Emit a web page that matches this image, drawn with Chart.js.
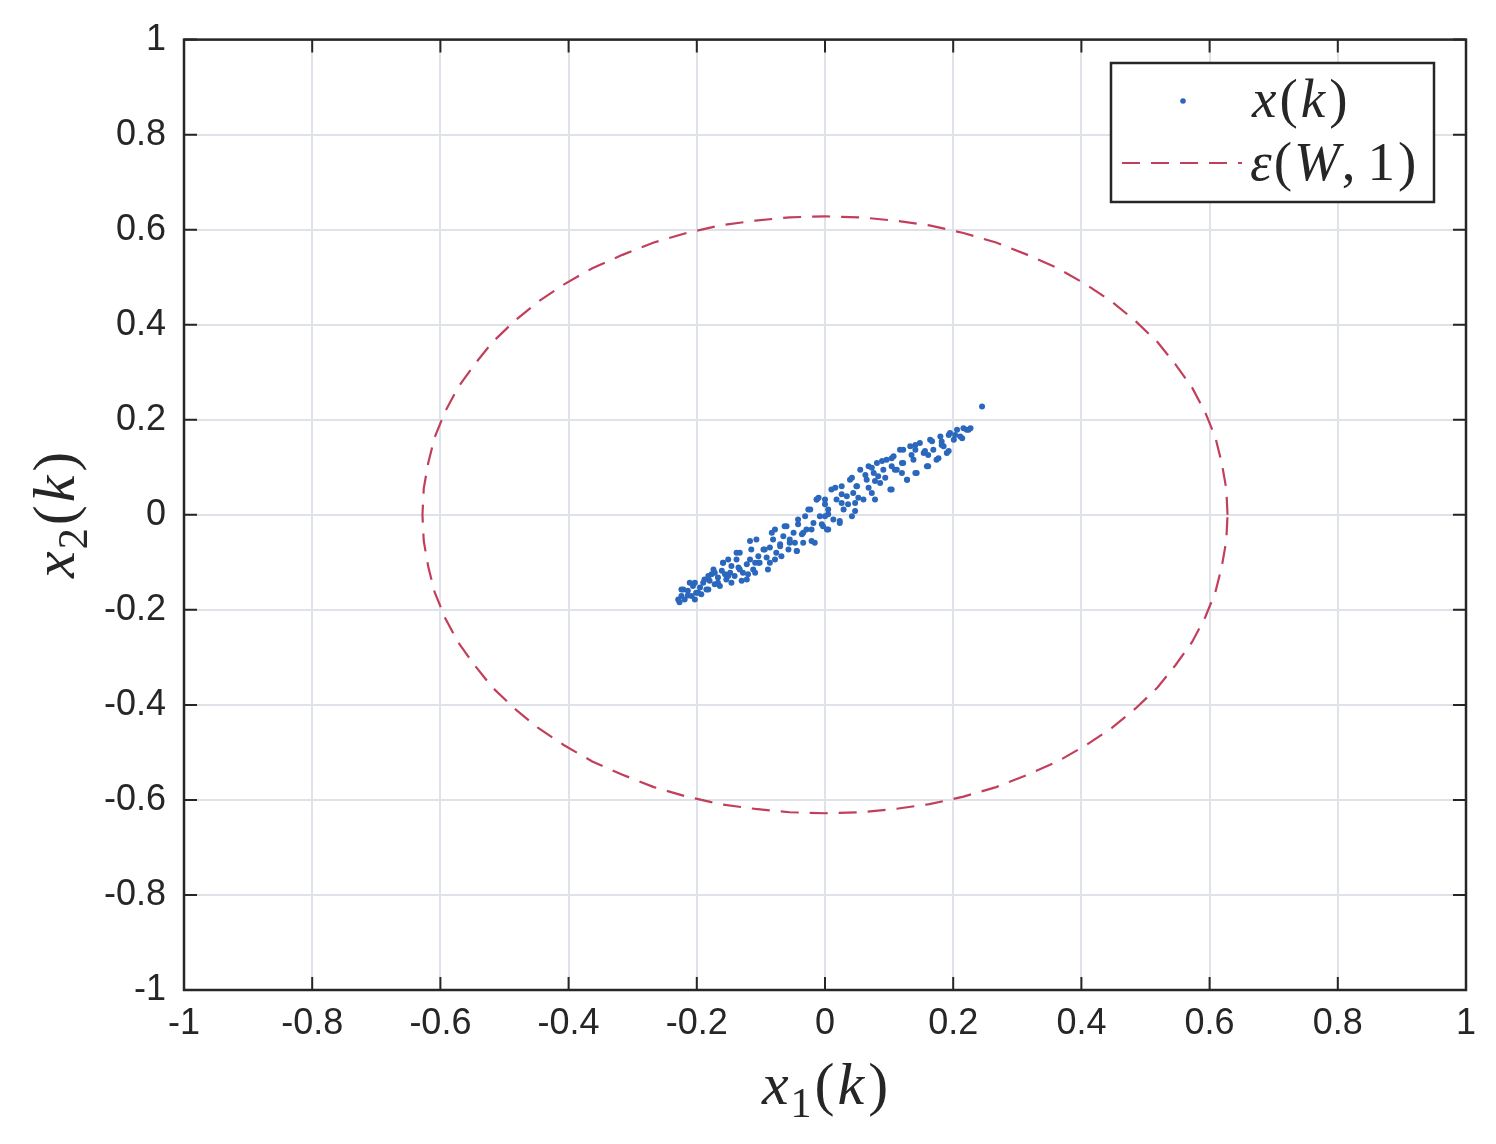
<!DOCTYPE html>
<html>
<head>
<meta charset="utf-8">
<script src="https://cdn.jsdelivr.net/npm/chart.js@4.4.0/dist/chart.umd.min.js"></script>
<style>
	html, body { margin: 0; padding: 0; background: #fff; }
	canvas { display: block; }
</style>
</head>
<body>
<canvas id="myChart_state" width="1496" height="1144"></canvas>
<script>
// samples of x(k) = [x1(k), x2(k)]
const stateX1 = [
	-0.227, -0.224, -0.219, -0.214, -0.208, -0.206, -0.201, -0.195, -0.190, -0.185,
	-0.180, -0.177, -0.172, -0.167, -0.161, -0.159, -0.154, -0.148, -0.146, -0.141,
	-0.135, -0.133, -0.128, -0.122, -0.117, -0.112, -0.107, -0.104, -0.102, -0.096,
	-0.091, -0.086, -0.081, -0.078, -0.076, -0.070, -0.065, -0.060, -0.057, -0.055,
	-0.049, -0.044, -0.042, -0.036, -0.031, -0.029, -0.023, -0.018, -0.016, -0.013,
	-0.008, -0.003, 0.003, 0.005, 0.010, 0.013, 0.018, 0.023, 0.026, 0.029,
	0.034, 0.039, 0.042, 0.047, 0.049, 0.055, 0.060, 0.065, 0.068, 0.073,
	0.076, 0.081, 0.086, 0.091, 0.096, 0.102, 0.107, 0.112, 0.117, 0.122,
	0.128, 0.133, 0.138, 0.143, 0.148, 0.154, 0.159, 0.164, 0.169, 0.174,
	0.180, 0.185, 0.190, 0.195, 0.201, 0.206, 0.211, 0.216, 0.221, 0.227,
	0.245, -0.221, -0.211, -0.203, -0.193, -0.182, -0.174, -0.164, -0.156, -0.151,
	-0.138, -0.130, -0.120, -0.115, -0.109, 0.083, 0.104, 0.120, 0.141, 0.161,
	0.182, 0.203, 0.026, 0.044, 0.000, -0.021, -0.034, -0.047, -0.068, -0.086,
	0.224, 0.214, 0.193, 0.182, 0.193, 0.167, 0.156, 0.177, 0.141, 0.135,
	0.161, 0.122, 0.120, 0.141, 0.104, 0.109, 0.128, 0.089, 0.094, 0.104,
	0.073, 0.078, 0.063, 0.068, 0.078, 0.042, 0.050, 0.052, 0.016, 0.026,
	0.036, 0.047, 0.000, 0.005, 0.023, -0.010, -0.005,
	-0.229, -0.224, -0.214, -0.203, -0.198, -0.188, -0.182, -0.172, -0.167, -0.159,
	-0.151, -0.146, -0.138, -0.133, -0.122, -0.117, -0.109, -0.104, -0.094, -0.089,
	-0.078, -0.083, -0.070, -0.063, -0.055, -0.044, -0.042, -0.034, -0.026, -0.021,
	-0.013, 0.000, 0.005
];
const stateX2 = [
	-0.184, -0.171, -0.178, -0.160, -0.171, -0.150, -0.164, -0.153, -0.143, -0.157,
	-0.139, -0.125, -0.146, -0.132, -0.118, -0.101, -0.136, -0.122, -0.108, -0.129,
	-0.111, -0.080, -0.122, -0.104, -0.094, -0.115, -0.052, -0.087, -0.101, -0.073,
	-0.090, -0.069, -0.052, -0.031, -0.080, -0.062, -0.045, -0.024, -0.073, -0.052,
	-0.038, -0.076, -0.020, -0.041, -0.003, -0.031, 0.011, -0.017, -0.059, 0.032,
	-0.003, -0.024, -0.031, 0.011, 0.053, -0.010, 0.032, -0.017, 0.060, 0.011,
	0.039, 0.074, -0.003, 0.025, 0.060, 0.095, 0.032, 0.074, 0.102, 0.046,
	0.088, 0.109, 0.067, 0.095, 0.116, 0.053, 0.123, 0.095, 0.137, 0.109,
	0.074, 0.144, 0.116, 0.088, 0.151, 0.130, 0.102, 0.158, 0.137, 0.116,
	0.165, 0.144, 0.130, 0.172, 0.158, 0.179, 0.165, 0.182, 0.179, 0.182,
	0.228, -0.157, -0.143, -0.178, -0.167, -0.129, -0.115, -0.150, -0.125, -0.094,
	-0.094, -0.139, -0.125, -0.073, -0.101, 0.081, 0.102, 0.088, 0.137, 0.126,
	0.154, 0.168, 0.025, 0.046, 0.032, -0.031, -0.059, -0.059, -0.087, -0.101,
	0.179, 0.161, 0.168, 0.147, 0.134, 0.155, 0.134, 0.119, 0.147, 0.126,
	0.102, 0.137, 0.109, 0.088, 0.119, 0.095, 0.074, 0.113, 0.078, 0.053,
	0.099, 0.071, 0.084, 0.057, 0.032, 0.078, 0.060, 0.036, 0.057, 0.043,
	0.022, 0.008, 0.022, 0.001, -0.013, 0.036, -0.020,
	-0.178, -0.157, -0.170, -0.143, -0.164, -0.136, -0.157, -0.122, -0.143, -0.101,
	-0.129, -0.143, -0.080, -0.115, -0.136, -0.055, -0.122, -0.101, -0.073, -0.115,
	-0.094, -0.038, -0.066, -0.024, -0.059, -0.076, -0.010, -0.038, 0.011, -0.055,
	0.032, -0.003, -0.031
];

// boundary of the ellipsoid eps(W,1), read every 5 degrees
const ellipseX1 = [
	0.628, 0.626, 0.619, 0.609, 0.593, 0.573, 0.547, 0.519, 0.485, 0.448,
	0.407, 0.363, 0.316, 0.267, 0.216, 0.163, 0.109, 0.055, 0.000,
	-0.055, -0.109, -0.163, -0.216, -0.267, -0.316, -0.363, -0.407, -0.448,
	-0.485, -0.519, -0.547, -0.573, -0.593, -0.609, -0.619, -0.626, -0.628,
	-0.626, -0.619, -0.609, -0.593, -0.573, -0.547, -0.519, -0.485, -0.448,
	-0.407, -0.363, -0.316, -0.267, -0.216, -0.163, -0.109, -0.055, 0.000,
	0.055, 0.109, 0.163, 0.216, 0.267, 0.316, 0.363, 0.407, 0.448,
	0.485, 0.519, 0.547, 0.573, 0.593, 0.609, 0.619, 0.626, 0.628
];
const ellipseX2 = [
	0.000, 0.055, 0.109, 0.163, 0.216, 0.267, 0.316, 0.363, 0.407, 0.448,
	0.485, 0.519, 0.547, 0.573, 0.593, 0.609, 0.619, 0.626, 0.628,
	0.626, 0.619, 0.609, 0.593, 0.573, 0.547, 0.519, 0.485, 0.448,
	0.407, 0.363, 0.316, 0.267, 0.216, 0.163, 0.109, 0.055, 0.000,
	-0.055, -0.109, -0.163, -0.216, -0.267, -0.316, -0.363, -0.407, -0.448,
	-0.485, -0.519, -0.547, -0.573, -0.593, -0.609, -0.619, -0.626, -0.628,
	-0.626, -0.619, -0.609, -0.593, -0.573, -0.547, -0.519, -0.485, -0.448,
	-0.407, -0.363, -0.316, -0.267, -0.216, -0.163, -0.109, -0.055, 0.000
];

const tickValues = [-1, -0.8, -0.6, -0.4, -0.2, 0, 0.2, 0.4, 0.6, 0.8, 1];
const tickLabels = ['-1', '-0.8', '-0.6', '-0.4', '-0.2', '0', '0.2', '0.4', '0.6', '0.8', '1'];

const serif = '"Liberation Serif", "DejaVu Serif", serif';
const textColor = '#262626';
const dotColor = '#2a67bd';
const ellipseColor = '#c23f5b';

// draw a small latex-like string: italic letters, upright digits/brackets
function drawMath(ctx, parts, x, y, size, align) {
	let w = 0;
	parts.forEach(p => {
		ctx.font = (p.it ? 'italic ' : '') + (p.sub ? Math.round(size * 0.7) : size) + 'px ' + serif;
		p.w = ctx.measureText(p.t).width + (p.gap || 0);
		w += p.w;
	});
	let cx = align === 'center' ? x - w / 2 : x;
	parts.forEach(p => {
		ctx.font = (p.it ? 'italic ' : '') + (p.sub ? Math.round(size * 0.7) : size) + 'px ' + serif;
		ctx.fillText(p.t, cx, y + (p.sub ? size * 0.22 : 0));
		cx += p.w;
	});
}

const framePlugin = {
	id: 'frame',
	afterDraw(chart) {
		const ctx = chart.ctx;
		const a = chart.chartArea;
		const xs = chart.scales.x;
		const ys = chart.scales.y;
		ctx.save();

		// box and inner ticks on all four sides
		ctx.strokeStyle = textColor;
		ctx.lineWidth = 2;
		ctx.beginPath();
		tickValues.forEach(v => {
			const px = xs.getPixelForValue(v);
			const py = ys.getPixelForValue(v);
			ctx.moveTo(px, a.bottom); ctx.lineTo(px, a.bottom - 13);
			ctx.moveTo(px, a.top); ctx.lineTo(px, a.top + 13);
			ctx.moveTo(a.left, py); ctx.lineTo(a.left + 13, py);
			ctx.moveTo(a.right, py); ctx.lineTo(a.right - 13, py);
		});
		ctx.stroke();
		ctx.lineWidth = 2.5;
		ctx.strokeRect(a.left, a.top, a.right - a.left, a.bottom - a.top);

		// axis titles
		ctx.fillStyle = textColor;
		ctx.textBaseline = 'alphabetic';
		ctx.textAlign = 'left';
		drawMath(ctx, [
			{ t: 'x', it: true, gap: 2 }, { t: '1', sub: true, gap: 3 },
			{ t: '(' , gap: 3 }, { t: 'k', it: true, gap: 4 }, { t: ')' }
		], (a.left + a.right) / 2, 1104, 60, 'center');
		ctx.save();
		ctx.translate(74, (a.top + a.bottom) / 2);
		ctx.rotate(-Math.PI / 2);
		drawMath(ctx, [
			{ t: 'x', it: true, gap: 2 }, { t: '2', sub: true, gap: 3 },
			{ t: '(' , gap: 3 }, { t: 'k', it: true, gap: 4 }, { t: ')' }
		], 0, 0, 60, 'center');
		ctx.restore();

		// legend box
		const ds = chart.data.datasets;
		ctx.fillStyle = '#fff';
		ctx.fillRect(1111, 63, 323, 139);
		ctx.strokeStyle = textColor;
		ctx.lineWidth = 2.5;
		ctx.strokeRect(1111, 63, 323, 139);

		ctx.fillStyle = ds[0].backgroundColor;
		ctx.beginPath();
		ctx.arc(1183, 101, 2.8, 0, Math.PI * 2);
		ctx.fill();

		ctx.strokeStyle = ds[1].borderColor;
		ctx.lineWidth = ds[1].borderWidth;
		ctx.setLineDash(ds[1].borderDash);
		ctx.beginPath();
		ctx.moveTo(1122, 163);
		ctx.lineTo(1242, 163);
		ctx.stroke();
		ctx.setLineDash([]);

		ctx.fillStyle = textColor;
		drawMath(ctx, [
			{ t: 'x', it: true, gap: 3 }, { t: '(', gap: 3 }, { t: 'k', it: true, gap: 4 }, { t: ')' }
		], 1252, 117, 55, 'left');
		drawMath(ctx, [
			{ t: 'ε', it: true, gap: 2 }, { t: '(', gap: 2 }, { t: 'W', it: true, gap: 2 },
			{ t: ',', gap: 12 }, { t: '1', gap: 3 }, { t: ')' }
		], 1250, 180, 55, 'left');

		ctx.restore();
	}
};

const ctx_state = document.getElementById('myChart_state').getContext('2d');

const myChart_state = new Chart(ctx_state, {
	type: 'scatter',

	data: {
		datasets: [{
			label: 'x(k)',
			data: stateX1.map((v, i) => ({ x: v, y: stateX2[i] })),
			backgroundColor: dotColor,
			borderColor: dotColor,
			borderWidth: 0,
			pointRadius: 3,
			pointHoverRadius: 3,
			showLine: false,
		}, {
			label: 'ε(W,1)',
			data: ellipseX1.map((v, i) => ({ x: v, y: ellipseX2[i] })),
			borderColor: ellipseColor,
			backgroundColor: 'transparent',
			borderWidth: 2.2,
			borderDash: [18, 11],
			pointRadius: 0,
			showLine: true,
			fill: false,
			tension: 0,
		}]
	},

	options: {
		responsive: false,
		animation: false,
		layout: {
			padding: { top: 37, right: 30, left: 0, bottom: 0 }
		},
		scales: {
			x: {
				type: 'linear',
				min: -1, max: 1,
				afterBuildTicks: (scale) => { scale.ticks = tickValues.map(v => ({ value: v })); },
				afterFit: (scale) => { scale.height = 154; },
				ticks: {
					padding: 12,
					color: textColor,
					font: { family: '"Liberation Sans", Arial, sans-serif', size: 36 },
					callback: (value) => tickLabels[tickValues.indexOf(value)],
				},
				grid: {
					color: '#dfe2e8',
					lineWidth: 2,
					drawTicks: false,
				},
				border: { display: false },
			},
			y: {
				type: 'linear',
				min: -1, max: 1,
				afterBuildTicks: (scale) => { scale.ticks = tickValues.map(v => ({ value: v })); },
				afterFit: (scale) => { scale.width = 184; },
				ticks: {
					padding: 18,
					color: textColor,
					font: { family: '"Liberation Sans", Arial, sans-serif', size: 36 },
					callback: (value) => tickLabels[tickValues.indexOf(value)],
				},
				grid: {
					color: '#dfe2e8',
					lineWidth: 2,
					drawTicks: false,
				},
				border: { display: false },
			},
		},
		plugins: {
			legend: { display: false },
			tooltip: { enabled: false },
			title: { display: false },
		}
	},
	plugins: [framePlugin]
});
</script>
</body>
</html>
